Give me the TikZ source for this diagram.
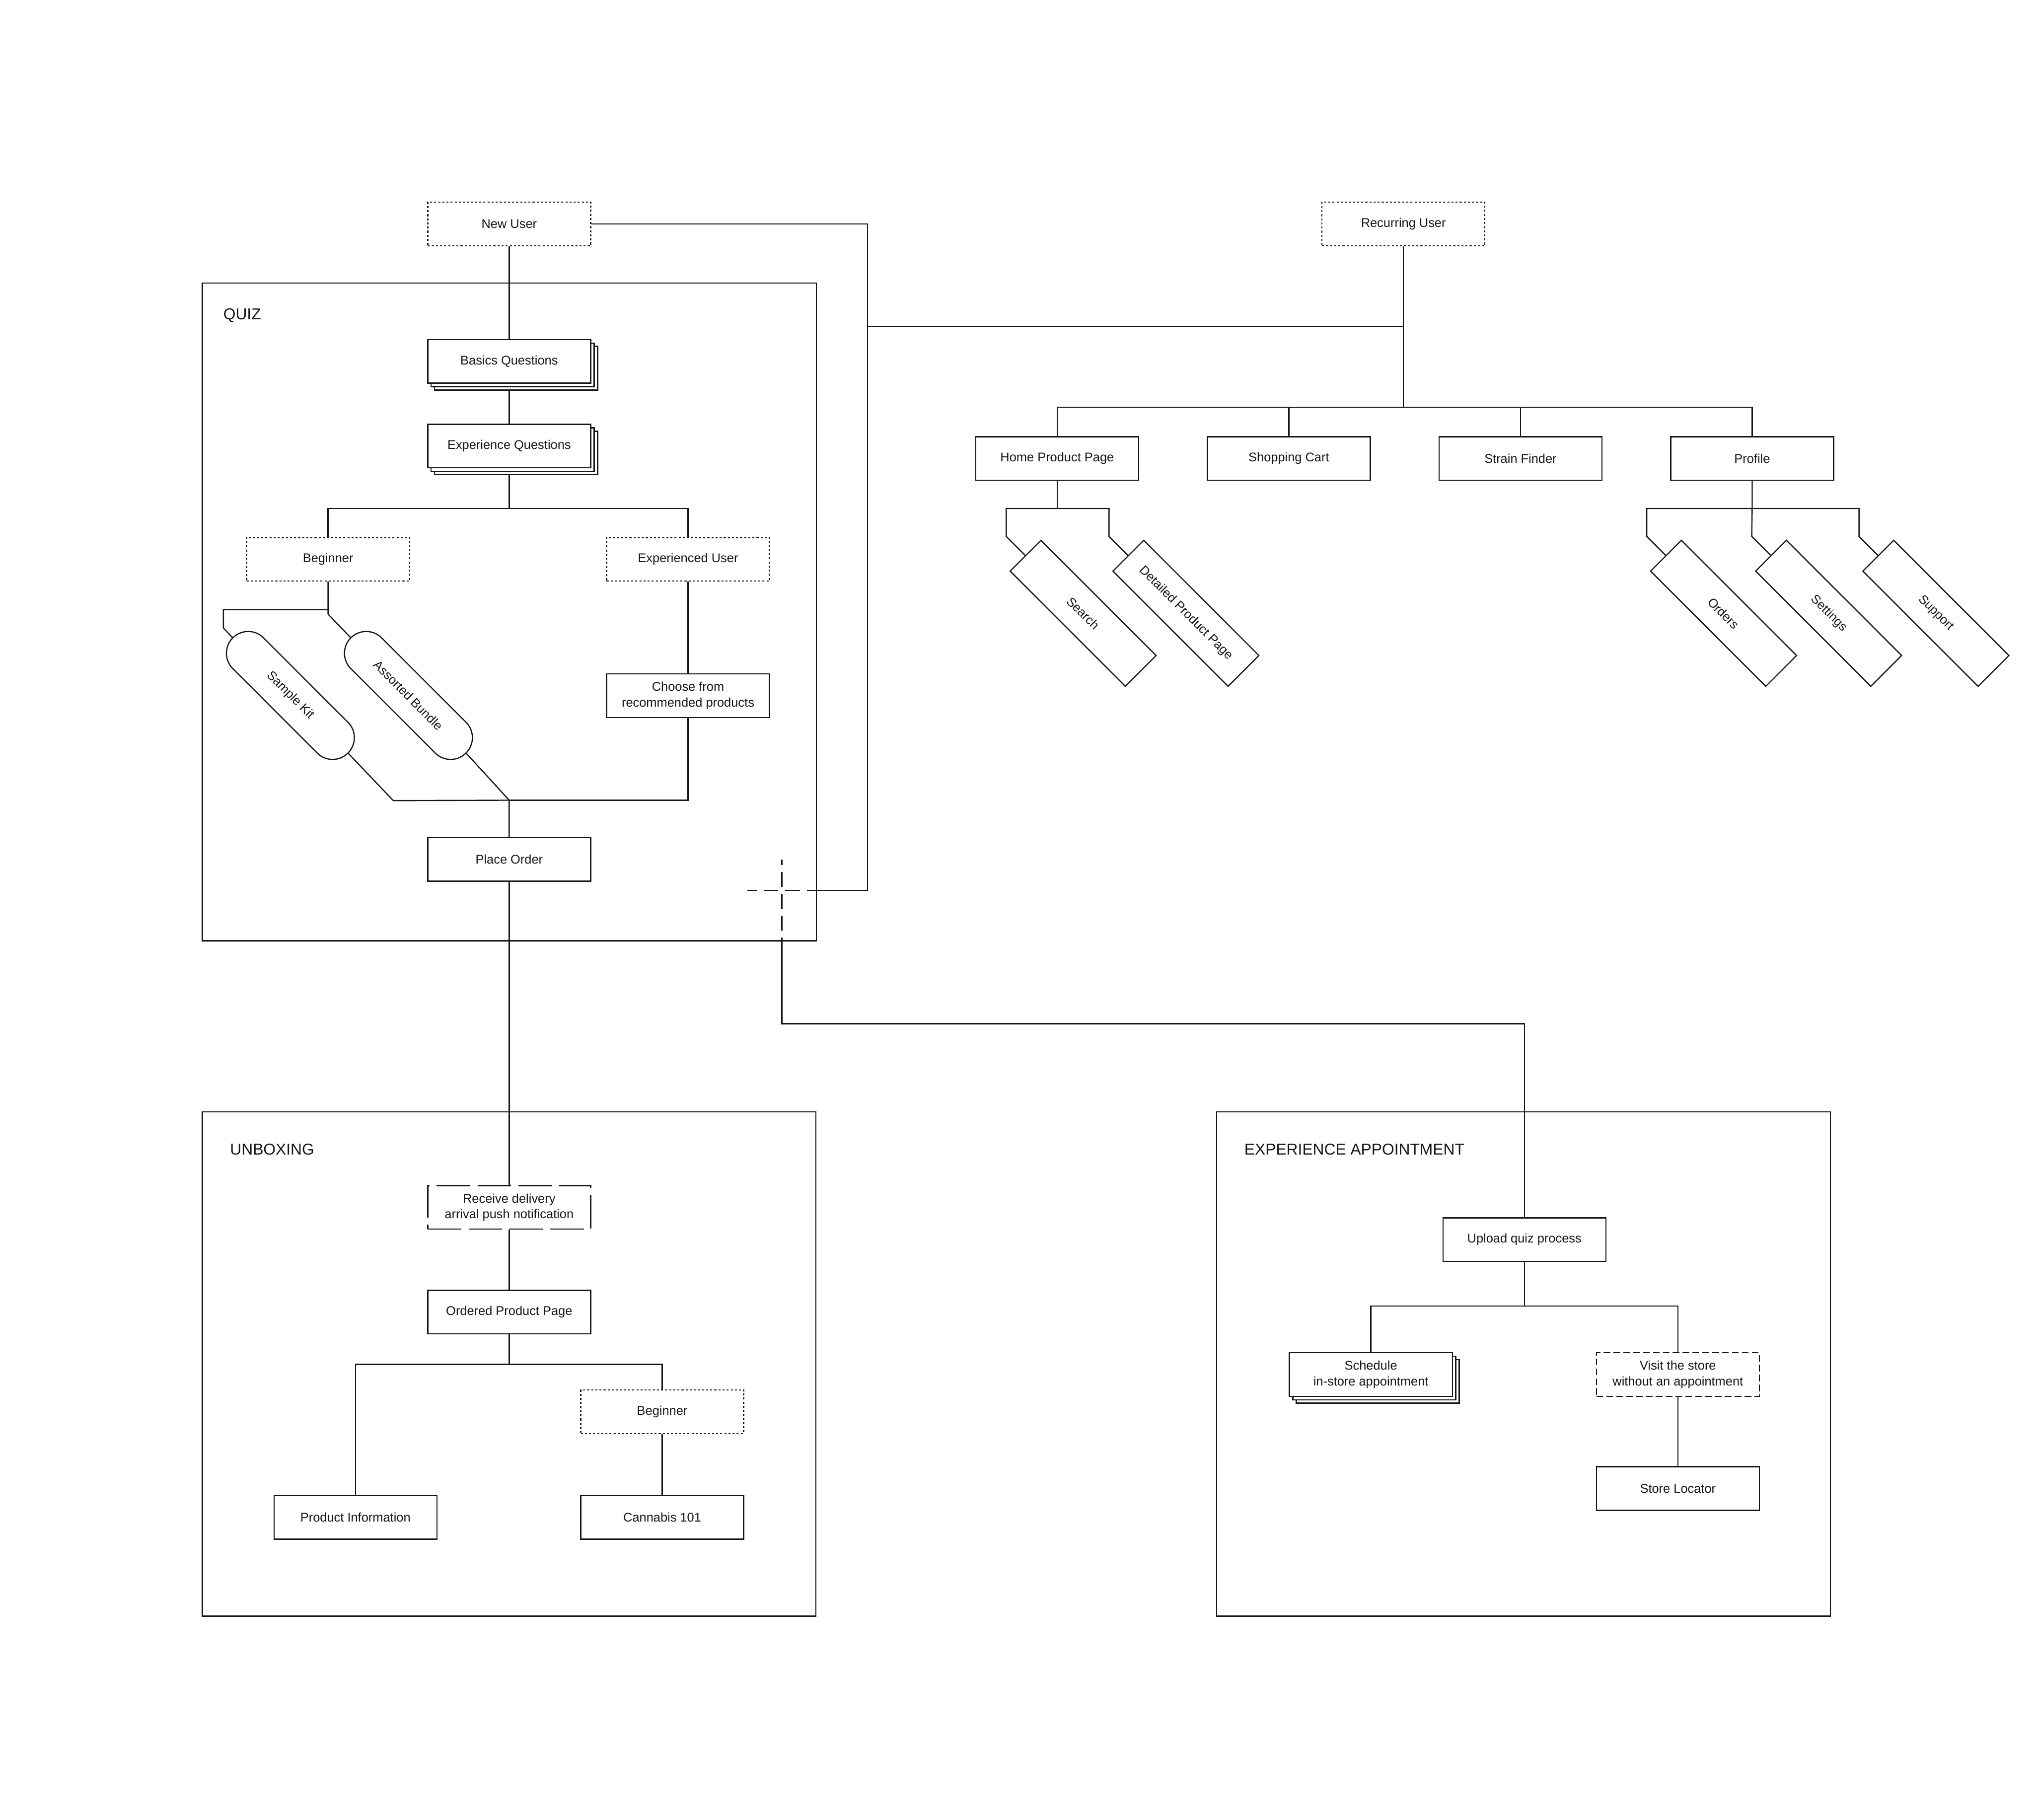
\documentclass[tikz,border=0pt]{standalone}
\usepackage{fontspec}
\setmainfont{Liberation Sans}
\usetikzlibrary{calc,shapes.misc,shadows,backgrounds}
\definecolor{tinte}{HTML}{161616}
\tikzset{
  kasten/.style={draw=tinte,fill=white,line width=0.75pt,minimum width=3.63cm,minimum height=0.97cm,inner sep=0pt,align=center,font=\fontsize{8}{9.9}\selectfont},
  kastenp/.style={kasten,dash pattern=on 1.3pt off 1.3pt},
  kastenl/.style={kasten,dash pattern=on 0.75cm off 0.16cm},
  kastenm/.style={kasten,dash pattern=on 0.15cm off 0.07cm},
  stapel/.style={kasten,copy shadow={shadow xshift=1.54mm,shadow yshift=-1.54mm},copy shadow={shadow xshift=0.77mm,shadow yshift=-0.77mm}},
  kapsel/.style={kasten,rounded rectangle,rotate=-45},
  schraeg/.style={kasten,rotate=-45},
  rahmen/.style={draw=tinte,line width=0.75pt,inner sep=0pt},
  titel/.style={anchor=base west,inner sep=0pt,font=\fontsize{10}{12}\selectfont},
  linie/.style={tinte,line width=0.75pt},
  kreuzl/.style={linie,dash pattern=on 0.33cm off 0.155cm,dash phase=0.4075cm},
}
\begin{document}
\begin{tikzpicture}[x=1cm,y=-1cm,tinte]
  \useasboundingbox (0,0) rectangle (45.32,40.55);
  % --- Rahmen ---
  \node[rahmen,minimum width=13.68cm,minimum height=14.65cm] (quiz) at (11.35,13.635) {};
  \node[rahmen,minimum width=13.67cm,minimum height=11.24cm] (unbox) at (11.345,30.39) {};
  \node[rahmen,minimum width=13.67cm,minimum height=11.24cm] (appt) at (33.945,30.39) {};
  \node[titel] (tquiz) at (4.97,7.12) {QUIZ};
  \node[titel] (tunbox) at (5.12,25.73) {UNBOXING};
  \node[titel] (tappt) at (27.72,25.73) {EXPERIENCE APPOINTMENT};
  % --- Einstieg ---
  \node[kastenp] (nu) at (11.345,4.99) {New User};
  \node[kastenp] (ru) at (31.27,4.99) {Recurring User};
  % --- Quiz ---
  \node[stapel] (bq) at (11.345,8.05) {Basics Questions};
  \node[stapel] (eq) at (11.345,9.94) {Experience Questions};
  \node[kastenp] (beg) at (7.31,12.46) {Beginner};
  \node[kastenp] (exu) at (15.33,12.46) {Experienced User};
  \node[kasten] (ch) at (15.33,15.50) {Choose from\\recommended products};
  \node[kapsel] (sk) at (6.47,15.495) {Sample Kit};
  \node[kapsel] (ab) at (9.10,15.495) {Assorted Bundle};
  \node[kasten] (po) at (11.345,19.15) {Place Order};
  % --- Wiederkehrend ---
  \node[kasten] (hp) at (23.555,10.215) {Home Product Page};
  \node[kasten] (sc) at (28.717,10.215) {Shopping Cart};
  \node[kasten] (sf) at (33.879,10.215) {Strain Finder};
  \node[kasten] (pf) at (39.04,10.215) {Profile};
  \node[schraeg] (se) at (24.133,13.665) {Search};
  \node[schraeg] (dp) at (26.423,13.665) {Detailed Product Page};
  \node[schraeg] (ord) at (38.403,13.665) {Orders};
  \node[schraeg] (st) at (40.743,13.665) {Settings};
  \node[schraeg] (su) at (43.133,13.665) {Support};
  % --- Unboxing ---
  \node[kastenl] (rd) at (11.345,26.90) {Receive delivery\\arrival push notification};
  \node[kasten] (op) at (11.345,29.235) {Ordered Product Page};
  \node[kastenp] (b2) at (14.755,31.455) {Beginner};
  \node[kasten] (pi) at (7.92,33.81) {Product Information};
  \node[kasten] (cb) at (14.755,33.81) {Cannabis 101};
  % --- Termin ---
  \node[kasten] (uq) at (33.965,27.62) {Upload quiz process};
  \node[stapel] (sd) at (30.545,30.625) {Schedule\\in-store appointment};
  \node[kastenm] (vs) at (37.385,30.625) {Visit the store\\without an appointment};
  \node[kasten] (sl) at (37.385,33.165) {Store Locator};
  % --- Knoten der Leitungen ---
  \coordinate (qb) at (11.345,11.33);
  \coordinate (qj) at (11.345,17.83);
  \coordinate (kreuz) at (17.42,19.84);
  \coordinate (nk) at (19.33,7.28);
  \coordinate (rj) at (31.27,9.07);
  \coordinate (hb) at (23.555,11.33);
  \coordinate (pb) at (39.04,11.33);
  \coordinate (ub) at (11.345,30.40);
  \coordinate (eb) at (33.965,29.10);
  \begin{pgfonlayer}{background}
    % --- Quiz ---
    \draw[linie] (nu.south) -- (bq.north);
    \draw[linie] (bq.south) -- (eq.north);
    \draw[linie] (eq.south) -- (qb);
    \draw[linie] (beg.north) |- (qb) -| (exu.north);
    \draw[linie] (beg.south) -- ++(0,0.625) coordinate (bj) -| ($(sk.west)+(-0.20,-0.21)$) -- (sk.west);
    \draw[linie] (bj) -- ++(0,0.1) -- (ab.west);
    \draw[linie] (exu.south) -- (ch.north);
    \draw[linie] (sk.east) -- ++(1.0,1.05) -- (qj);
    \draw[linie] (ab.east) -- (qj) -- (po.north);
    \draw[linie] (ch.south) |- (qj);
    \draw[linie] (po.south) -- (rd.north);
    % --- Unboxing ---
    \draw[linie] (rd.south) -- (op.north);
    \draw[linie] (op.south) -- (ub);
    \draw[linie] (pi.north) |- (ub) -| (b2.north);
    \draw[linie] (b2.south) -- (cb.north);
    % --- Termin ---
    \draw[linie] (uq.south) -- (eb);
    \draw[linie] (sd.north) |- (eb) -| (vs.north);
    \draw[linie] (vs.south) -- (sl.north);
    % --- Kreuzung: gestrichelt im Rahmen ---
    \draw[linie] (nu.east) -| (19.33,19.84) -- (kreuz -| quiz.east);
    \draw[kreuzl] (kreuz) -- ++(-0.77,0);
    \draw[kreuzl] (kreuz) -- (kreuz -| quiz.east);
    \draw[kreuzl] (kreuz) -- ++(0,-0.69);
    \draw[kreuzl] (kreuz) -- (kreuz |- quiz.south);
    \draw[linie] (kreuz |- quiz.south) |- (uq.north |- 0,22.81) -- (uq.north);
    % --- Wiederkehrend ---
    \draw[linie] (nk) -- (nk -| ru.south);
    \draw[linie] (ru.south) -- (rj);
    \draw[linie] (hp.north) |- (rj) -| (pf.north);
    \draw[linie] (sc.north) -- (sc.north |- rj);
    \draw[linie] (sf.north) -- (sf.north |- rj);
    \draw[linie] (hp.south) -- (hb);
    \draw[linie] (se.west) -- ++(-0.42,-0.42) |- (hb) -| ($(dp.west)+(-0.42,-0.42)$) -- (dp.west);
    \draw[linie] (pf.south) -- (pb) -- ($(st.west)+(-0.42,-0.42)$) -- (st.west);
    \draw[linie] (ord.west) -- ++(-0.42,-0.42) |- (pb) -| ($(su.west)+(-0.42,-0.42)$) -- (su.west);
  \end{pgfonlayer}
\end{tikzpicture}
\end{document}
